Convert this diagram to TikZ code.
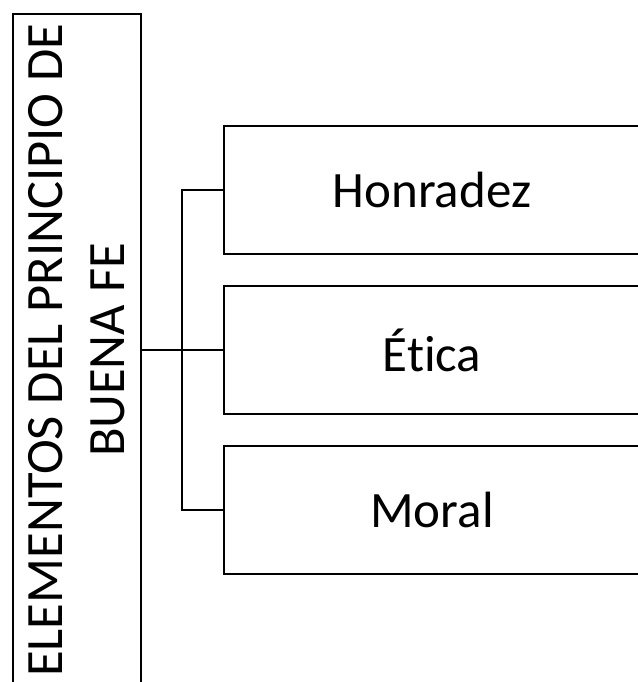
\documentclass[tikz,border=0pt]{standalone}
\usepackage{fontspec}
\setmainfont{Carlito}[Ligatures={NoCommon,NoRare,NoContextual}]
\usepackage{tikz}
\usepackage{xcolor}

\begin{document}
\begin{tikzpicture}[x=1pt, y=-1pt, line width=2pt]
    \useasboundingbox (0,0) rectangle (637,682);
    \node[rectangle, draw, rotate=90, align=center, minimum width=672pt, minimum height=128pt, inner sep=0pt, font=\fontsize{52.5}{62}\selectfont] (main) at (77,350) {ELEMENTOS DEL PRINCIPIO DE\\BUENA FE};
    \node[rectangle, draw, minimum width=416pt, minimum height=128pt, font=\fontsize{51}{62}\selectfont] (hon) at (432,190) {Honradez};
    \node[rectangle, draw, minimum width=416pt, minimum height=128pt, font=\fontsize{51}{62}\selectfont] (eti) at (432,350) {Ética};
    \node[rectangle, draw, minimum width=416pt, minimum height=128pt, font=\fontsize{51}{62}\selectfont] (mor) at (432,510) {Moral};
    \coordinate (split) at (182,350);

    % main.south sits on the right side once the box is turned
    \draw (main.south) -- (eti.west);
    \draw (hon.west) -| (split) |- (mor.west);
\end{tikzpicture}
\end{document}
